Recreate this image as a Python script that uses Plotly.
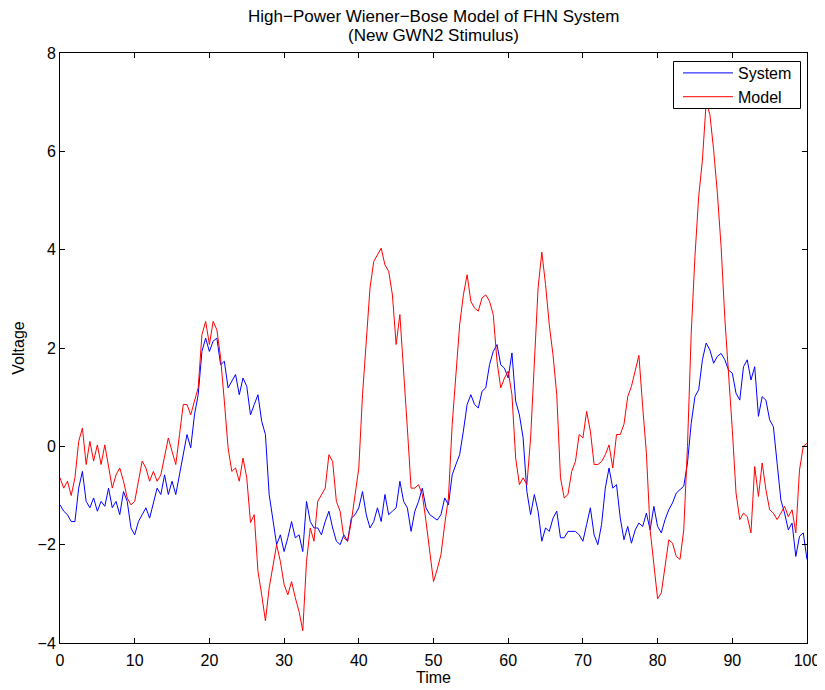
import numpy as np
import plotly.graph_objects as go

time = [i * 0.5 for i in range(201)]

system = [
    -1.19, -1.32, -1.39, -1.53, -1.53, -0.85, -0.51, -1.12, -1.25, -1.05,
    -1.32, -1.12, -1.22, -0.85, -1.25, -1.12, -1.39, -0.92, -1.12, -1.66,
    -1.80, -1.53, -1.39, -1.25, -1.46, -1.12, -0.85, -0.98, -0.58, -0.98,
    -0.71, -0.98, -0.58, -0.17, 0.24, -0.03, 0.64, 1.05, 1.93, 2.20,
    1.93, 2.14, 2.20, 1.66, 1.73, 1.19, 1.32, 1.46, 1.05, 1.39,
    1.22, 0.64, 0.85, 1.05, 0.51, 0.24, -0.98, -1.53, -2.00, -1.80,
    -2.14, -1.86, -1.53, -1.86, -1.80, -2.14, -1.12, -1.53, -1.66, -1.66,
    -1.80, -1.53, -1.32, -1.66, -1.93, -2.00, -1.80, -1.93, -1.46, -1.39,
    -1.25, -0.92, -1.39, -1.66, -1.53, -1.25, -1.53, -0.98, -1.39, -1.32,
    -1.25, -0.71, -1.12, -1.25, -1.73, -1.32, -1.12, -0.85, -1.25, -1.39,
    -1.45, -1.50, -1.39, -1.05, -1.19, -0.58, -0.37, -0.17, 0.31, 0.85,
    1.05, 0.85, 0.78, 1.12, 1.19, 1.66, 1.93, 2.07, 1.66, 1.59,
    1.39, 1.90, 0.92, 0.64, 0.17, -0.92, -1.39, -0.98, -1.32, -1.93,
    -1.66, -1.73, -1.46, -1.32, -1.86, -1.86, -1.73, -1.73, -1.73, -1.80,
    -1.93, -1.59, -1.25, -1.80, -2.00, -1.59, -0.85, -0.44, -0.85, -0.78,
    -1.46, -1.90, -1.63, -1.97, -1.70, -1.56, -1.63, -1.36, -1.70, -1.22,
    -1.63, -1.76, -1.49, -1.29, -1.15, -0.95, -0.88, -0.81, -0.34, 0.47,
    1.01, 1.15, 1.76, 2.10, 1.96, 1.69, 1.83, 1.89, 1.76, 1.55,
    1.49, 1.08, 0.94, 1.62, 1.76, 1.35, 1.62, 0.61, 1.01, 0.94,
    0.54, 0.40, -0.34, -1.09, -1.36, -1.70, -1.56, -2.24, -1.83, -1.76,
    -2.30,
]

model = [
    -0.64, -0.85, -0.71, -1.00, -0.64, 0.10, 0.37, -0.37, 0.10, -0.30,
    0.03, -0.37, 0.03, -0.37, -0.85, -0.58, -0.44, -0.71, -1.05, -1.19,
    -1.12, -0.71, -0.30, -0.44, -0.71, -0.51, -0.71, -0.58, -0.24, 0.17,
    -0.10, -0.37, 0.24, 0.85, 0.85, 0.64, 0.92, 1.19, 2.27, 2.54,
    2.07, 2.54, 2.37, 1.80, 0.92, -0.03, -0.51, -0.44, -0.71, -0.24,
    -0.64, -1.55, -1.39, -2.54, -3.02, -3.55, -2.88, -2.41, -2.00, -2.34,
    -2.81, -3.02, -2.75, -3.08, -3.36, -3.75, -2.34, -1.66, -1.93, -1.12,
    -0.98, -0.85, -0.17, -0.31, -1.12, -1.32, -1.86, -1.93, -1.53, -0.98,
    -0.44, 1.05, 2.20, 3.22, 3.76, 3.90, 4.03, 3.69, 3.56, 3.08,
    2.07, 2.68, 1.59, 0.37, -0.85, -0.85, -0.78, -0.98, -1.53, -2.20,
    -2.75, -2.50, -2.20, -1.59, -1.05, 0.44, 1.53, 2.47, 3.08, 3.49,
    2.95, 2.81, 2.75, 3.02, 3.08, 2.95, 2.68, 1.73, 1.19, 1.39,
    1.53, 1.05, -0.24, -0.78, -0.64, -0.78, 0.17, 1.66, 3.22, 3.95,
    3.29, 2.47, 1.86, 1.05, -0.64, -1.05, -0.98, -0.51, -0.31, 0.24,
    0.17, 0.71, 0.31, -0.37, -0.37, -0.31, -0.17, 0.03, -0.44, 0.24,
    0.24, 0.45, 1.01, 1.22, 1.55, 1.85, 0.81, -0.14, -1.70, -2.37,
    -3.10, -2.98, -2.44, -1.90, -1.97, -2.24, -2.30, -1.70, 0.00, 2.30,
    3.86, 5.08, 5.82, 7.00, 6.75, 6.03, 5.15, 4.06, 2.60, 1.55,
    0.34, -0.95, -1.49, -1.36, -1.43, -1.76, -0.41, -1.02, -0.34, -0.88,
    -1.29, -1.36, -1.49, -1.36, -1.22, -1.43, -1.29, -1.76, -0.48, 0.00,
    0.06,
]

x_ticks = [0, 10, 20, 30, 40, 50, 60, 70, 80, 90, 100]
y_ticks = [-4, -2, 0, 2, 4, 6, 8]
title_lines = ["High\u2212Power Wiener\u2212Bose Model of FHN System", "(New GWN2 Stimulus)"]

FONT = "Liberation Sans, Arial, Helvetica, sans-serif"

fig = go.Figure()
fig.add_trace(go.Scatter(x=time, y=system, mode="lines", name="System",
                         line=dict(color="rgb(0,0,255)", width=1)))
fig.add_trace(go.Scatter(x=time, y=model, mode="lines", name="Model",
                         line=dict(color="rgb(255,0,0)", width=1)))

axis_common = dict(showline=True, linecolor="black", linewidth=1, mirror="allticks",
                   ticks="inside", ticklen=5, tickcolor="black", showgrid=False,
                   zeroline=False, automargin=False,
                   tickfont=dict(family=FONT, size=16, color="black"))

# page has an 8px body margin; plot area lands at x 60..807, y 53..643 of the window
PW, PH = 747.0, 590.0

def py_to_paper(py):
    return (643.0 - py) / PH

def px_to_paper(px):
    return (px - 60.0) / PW

annotations = [
    dict(text=title_lines[0], x=0.5, xref="paper", y=py_to_paper(16.5), yref="paper",
         xanchor="center", yanchor="middle", showarrow=False,
         font=dict(family=FONT, size=17, color="black")),
    dict(text=title_lines[1], x=0.5, xref="paper", y=py_to_paper(35.5), yref="paper",
         xanchor="center", yanchor="middle", showarrow=False,
         font=dict(family=FONT, size=17, color="black")),
]

shapes = [
    dict(type="rect", xref="paper", yref="paper",
         x0=px_to_paper(673.5), x1=px_to_paper(800.5),
         y0=py_to_paper(108.5), y1=py_to_paper(61.5),
         line=dict(color="black", width=1), fillcolor="white", layer="above"),
]

fig.update_layout(
    width=817, height=682,
    margin=dict(l=52, r=18, t=45, b=47),
    paper_bgcolor="white", plot_bgcolor="white",
    font=dict(family=FONT, size=16, color="black"),
    xaxis=dict(range=[0, 100], tickvals=x_ticks, ticklabelstandoff=3,
               title=dict(text="Time", font=dict(family=FONT, size=16), standoff=0),
               **axis_common),
    yaxis=dict(range=[-4, 8], tickvals=y_ticks,
               title=dict(text="Voltage", font=dict(family=FONT, size=16), standoff=8),
               **axis_common),
    legend=dict(x=px_to_paper(678), y=py_to_paper(56), xanchor="left", yanchor="top",
                bgcolor="rgba(0,0,0,0)", borderwidth=0,
                font=dict(family=FONT, size=16, color="black"),
                itemwidth=50, tracegroupgap=0),
    showlegend=True,
    annotations=annotations,
    shapes=shapes,
)

fig.write_html("out.html")
